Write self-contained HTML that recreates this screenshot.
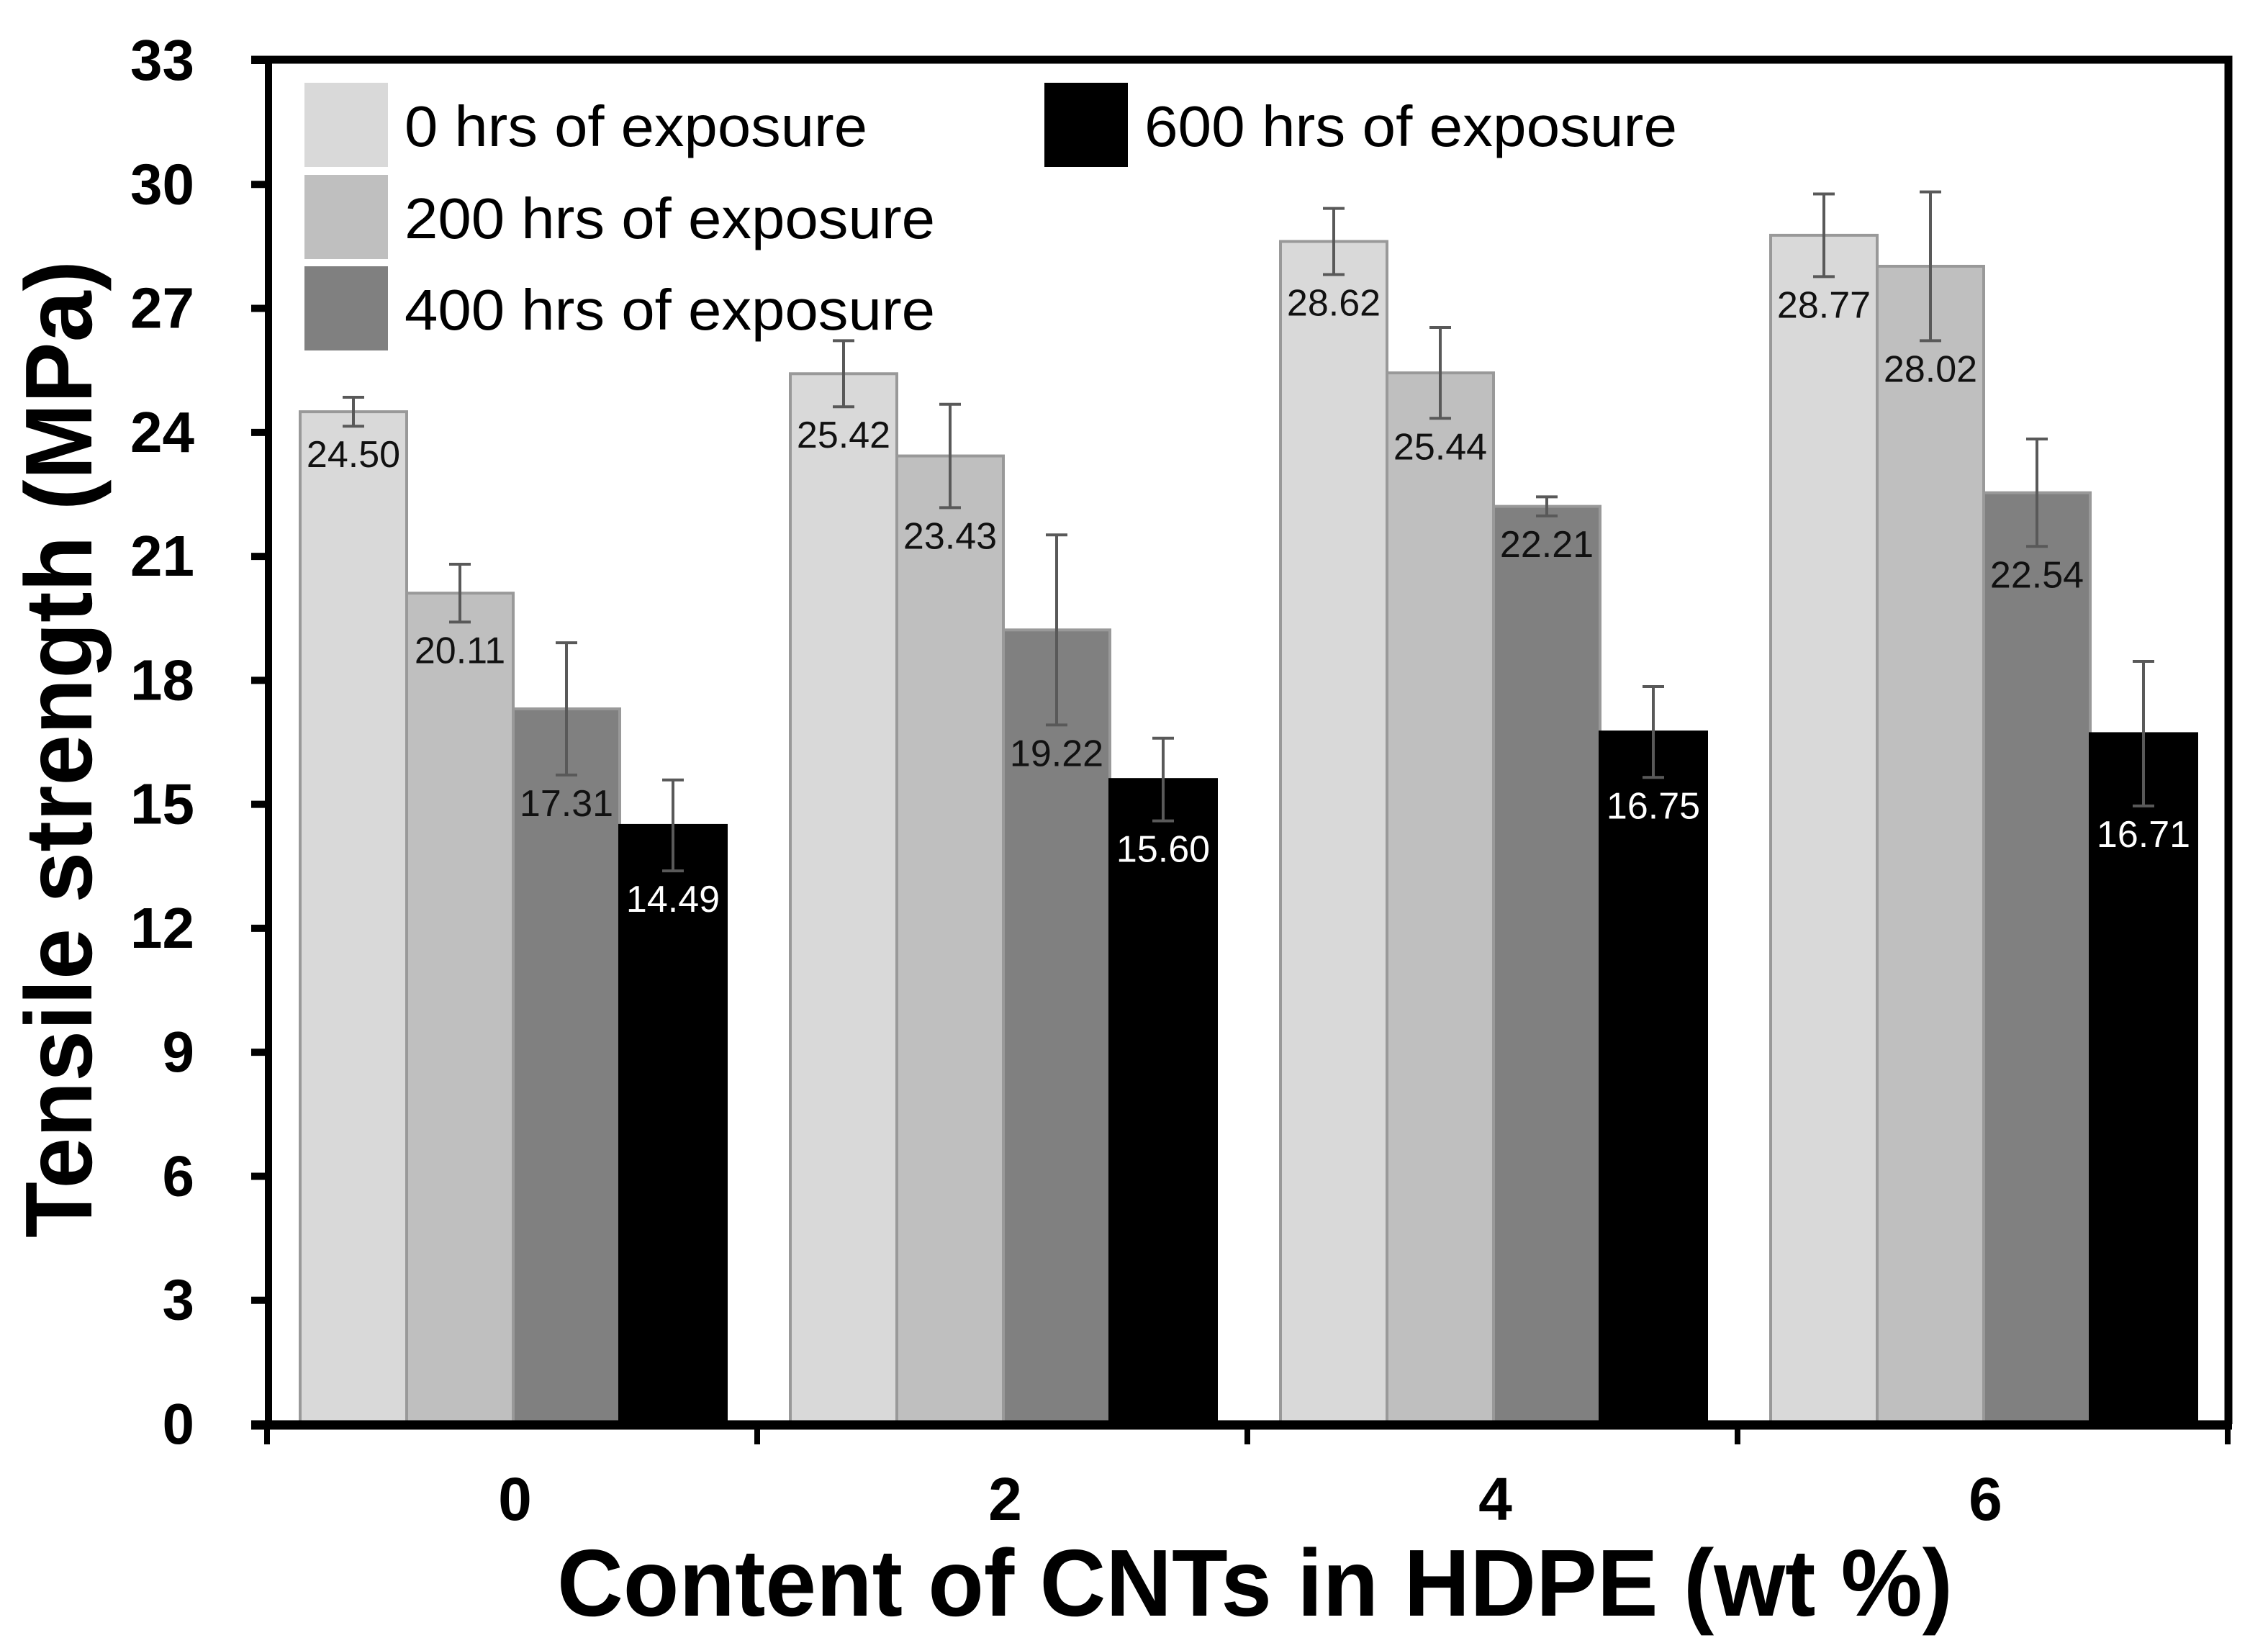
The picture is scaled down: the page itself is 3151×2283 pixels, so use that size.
<!DOCTYPE html>
<html><head><meta charset="utf-8"><style>
html,body{margin:0;padding:0;background:#fff;}
svg{display:block;font-family:"Liberation Sans",Arial,sans-serif;}
</style></head><body>
<svg id="chart" width="3151" height="2283" viewBox="0 0 3151 2283" xmlns="http://www.w3.org/2000/svg">
<g id="bars"></g>
<g id="axes"></g>
<g id="legend"></g>
</svg>
<script>
const categories = ["0", "2", "4", "6"];
const seriesNames = ["0 hrs of exposure", "200 hrs of exposure", "400 hrs of exposure", "600 hrs of exposure"];
const s0 = [24.50, 25.42, 28.62, 28.77];
const s200 = [20.11, 23.43, 25.44, 28.02];
const s400 = [17.31, 19.22, 22.21, 22.54];
const s600 = [14.49, 15.60, 16.75, 16.71];
const err0 = [0.35, 0.8, 0.8, 1.0];
const err200 = [0.7, 1.25, 1.1, 1.8];
const err400 = [1.6, 2.3, 0.23, 1.3];
const err600 = [1.1, 1.0, 1.1, 1.75];
const yTicks = [0, 3, 6, 9, 12, 15, 18, 21, 24, 27, 30, 33];

const series = [s0, s200, s400, s600];
const errs = [err0, err200, err400, err600];
const fills = ["#d9d9d9", "#bfbfbf", "#808080", "#000000"];
const NS = "http://www.w3.org/2000/svg";
const X0 = 371, GW = 681, BAR_OFF = 46, BW = 148;
const Y0 = 1979, YTOP = 84, YMAX = 33;
function yScale(v){ return Y0 - v * (Y0 - YTOP) / YMAX; }
function xBar(g, s){ return X0 + g * GW + BAR_OFF + s * BW; }
function mk(tag, attrs, parent){ const e = document.createElementNS(NS, tag); for (const k in attrs) e.setAttribute(k, attrs[k]); parent.appendChild(e); return e; }

const barsG = document.getElementById('bars');
const axesG = document.getElementById('axes');
const legG = document.getElementById('legend');

for (let g = 0; g < categories.length; g++) {
  for (let s = 0; s < series.length; s++) {
    const v = series[s][g], x = xBar(g, s), y = yScale(v);
    const r = mk('rect', {x: x, y: y, width: BW, height: Y0 - y, fill: fills[s], stroke: s === 3 ? '#000' : '#999', 'stroke-width': 4}, barsG);
    
    
    const cx = x + BW / 2, e = errs[s][g];
    const eb = mk('path', {d: `M${cx},${yScale(v + e)}V${yScale(v - e)}M${cx - 15},${yScale(v + e)}H${cx + 15}M${cx - 15},${yScale(v - e)}H${cx + 15}`, stroke: '#595959', 'stroke-width': 4, fill: 'none'}, barsG);
    
    
    const t = mk('text', {x: cx, y: yScale(v - e) + 57, 'text-anchor': 'middle', 'font-size': 52, fill: s === 3 ? '#fff' : '#111'}, barsG);
    t.textContent = v.toFixed(2);
    
    
  }
}

// frame
mk('path', {d: `M349,${YTOP - 1}H3096V${Y0}`, stroke: '#000', 'stroke-width': 11, fill: 'none'}, axesG);
mk('line', {x1: 373, y1: YTOP - 6, x2: 373, y2: Y0 + 6, stroke: '#000', 'stroke-width': 10}, axesG);
mk('line', {x1: 349, y1: Y0 + 1, x2: 3101, y2: Y0 + 1, stroke: '#000', 'stroke-width': 13}, axesG);
for (let i = 0; i < yTicks.length; i++) {
  const y = yScale(yTicks[i]);
  mk('line', {x1: 349, y1: y, x2: 373, y2: y, stroke: '#000', 'stroke-width': 10}, axesG);
  const t = mk('text', {x: 270, y: y + 27, 'text-anchor': 'end', 'font-size': 80, 'font-weight': 'bold'}, axesG);
  t.textContent = yTicks[i];
  
  
}
for (let g = 0; g <= categories.length; g++) {
  const x = X0 + g * GW;
  mk('line', {x1: x, y1: Y0, x2: x, y2: 2007, stroke: '#000', 'stroke-width': 8}, axesG);
}
for (let g = 0; g < categories.length; g++) {
  const t = mk('text', {x: X0 + g * GW + GW / 2 + 4, y: 2112, 'text-anchor': 'middle', 'font-size': 84, 'font-weight': 'bold'}, axesG);
  t.textContent = categories[g];
  
  
}
const xt = mk('text', {x: 774, y: 2245, 'font-size': 132, 'font-weight': 'bold', textLength: 1939, lengthAdjust: 'spacingAndGlyphs'}, axesG);
xt.textContent = 'Content of CNTs in HDPE (wt %)';


const yt = mk('text', {x: 0, y: 0, 'font-size': 132, 'font-weight': 'bold', textLength: 1358, lengthAdjust: 'spacingAndGlyphs', transform: 'translate(127,1720) rotate(-90)'}, axesG);
yt.textContent = 'Tensile strength (MPa)';



// legend
const legPos = [[423, 115], [423, 243], [423, 370], [1451, 115]];
const legW = [643, 737, 737, 740];
for (let i = 0; i < seriesNames.length; i++) {
  const [lx, ly] = legPos[i];
  const sw = mk('rect', {x: lx, y: ly, width: 116, height: 117, fill: fills[i]}, legG);
  
  
  const t = mk('text', {x: lx + 139, y: ly + 88, 'font-size': 80, textLength: legW[i], lengthAdjust: 'spacingAndGlyphs'}, legG);
  t.textContent = seriesNames[i];
  
  
}
</script>
</body></html>
